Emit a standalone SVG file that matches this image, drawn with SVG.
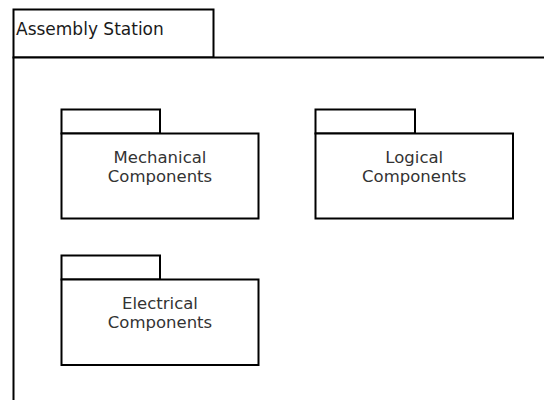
<svg xmlns="http://www.w3.org/2000/svg" width="544" height="400" viewBox="0 0 544 400">
<style>
.ln{fill:#ffffff;stroke:#000000;stroke-width:2}
.t{font-family:"DejaVu Sans",Verdana,sans-serif;font-size:16.5px;fill:#333333;text-anchor:middle}
.tt{font-family:"DejaVu Sans",Verdana,sans-serif;font-size:17px;fill:#1a1a1a}
</style>
<rect width="544" height="400" fill="#ffffff"/>
<g id="assembly-station">
<rect class="ln" x="13.5" y="9.5" width="200" height="48"/>
<path class="ln" d="M13.5 57.5 H546 V402 H13.5 Z"/>
<text class="tt" x="16" y="35">Assembly Station</text>
</g>
<g id="mechanical-components">
<rect class="ln" x="61.5" y="109.5" width="98.5" height="24"/>
<rect class="ln" x="61.5" y="133.5" width="197" height="85"/>
<text class="t" x="160" y="163">Mechanical</text>
<text class="t" x="160" y="182">Components</text>
</g>
<g id="logical-components">
<rect class="ln" x="315.5" y="109.5" width="99.5" height="24"/>
<rect class="ln" x="315.5" y="133.5" width="197.5" height="85"/>
<text class="t" x="414.25" y="163">Logical</text>
<text class="t" x="414.25" y="182">Components</text>
</g>
<g id="electrical-components">
<rect class="ln" x="61.5" y="255.5" width="98.5" height="24"/>
<rect class="ln" x="61.5" y="279.5" width="197" height="85.5"/>
<text class="t" x="160" y="308.5">Electrical</text>
<text class="t" x="160" y="327.5">Components</text>
</g>
<g id="connectors"></g>
</svg>
